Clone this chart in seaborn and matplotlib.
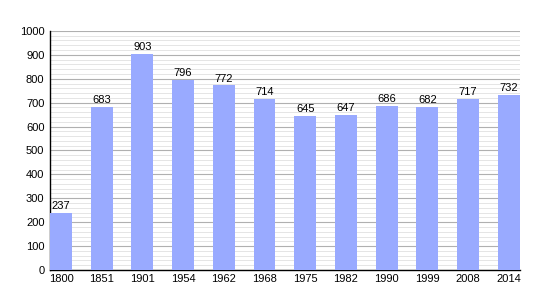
import matplotlib
matplotlib.use("Agg")
import matplotlib.pyplot as plt
import seaborn as sns
import pandas as pd
from matplotlib.ticker import MultipleLocator

years = ["1800", "1851", "1901", "1954", "1962", "1968", "1975", "1982", "1990", "1999", "2008", "2014"]
population = [237, 683, 903, 796, 772, 714, 645, 647, 686, 682, 717, 732]

df = pd.DataFrame({"year": years, "pop": population})

sns.set_style("white")
plt.rcParams['font.family'] = ['Liberation Sans', 'DejaVu Sans']

fig = plt.figure(figsize=(5.5, 3.0), dpi=100)
ax = fig.add_axes([0.0909, 0.1, 0.854, 0.797])

sns.barplot(data=df, x="year", y="pop", color="#99AAFF", saturation=1, width=0.54,
            linewidth=0, edgecolor="none", ax=ax, zorder=3)

ax.set_ylim(0, 1000)
ax.set_xlim(-0.27, len(years) - 1 + 0.27)
ax.yaxis.set_major_locator(MultipleLocator(100))
ax.yaxis.set_minor_locator(MultipleLocator(20))
ax.grid(which="major", axis="y", color="#b0b0b0", linewidth=0.8, zorder=0)
ax.grid(which="minor", axis="y", color="#e0e0e0", linewidth=0.6, zorder=0)
ax.set_axisbelow(True)

for s in ["top", "right"]:
    ax.spines[s].set_visible(False)
for s in ["left", "bottom"]:
    ax.spines[s].set_color("black")
    ax.spines[s].set_linewidth(1.0)

ax.tick_params(axis="y", which="major", length=4, width=0.8, direction="inout", labelsize=8, pad=2, colors="black")
ax.tick_params(axis="y", which="minor", length=2.5, width=0.6, direction="inout", colors="black")
ax.tick_params(axis="x", length=0, labelsize=8, pad=3, colors="black")
ax.set_xlabel("")
ax.set_ylabel("")

for i, v in enumerate(population):
    ax.text(i, v + 8, str(v), ha="center", va="bottom", fontsize=8, color="black", zorder=4)

fig.savefig("out.png", dpi=100)
